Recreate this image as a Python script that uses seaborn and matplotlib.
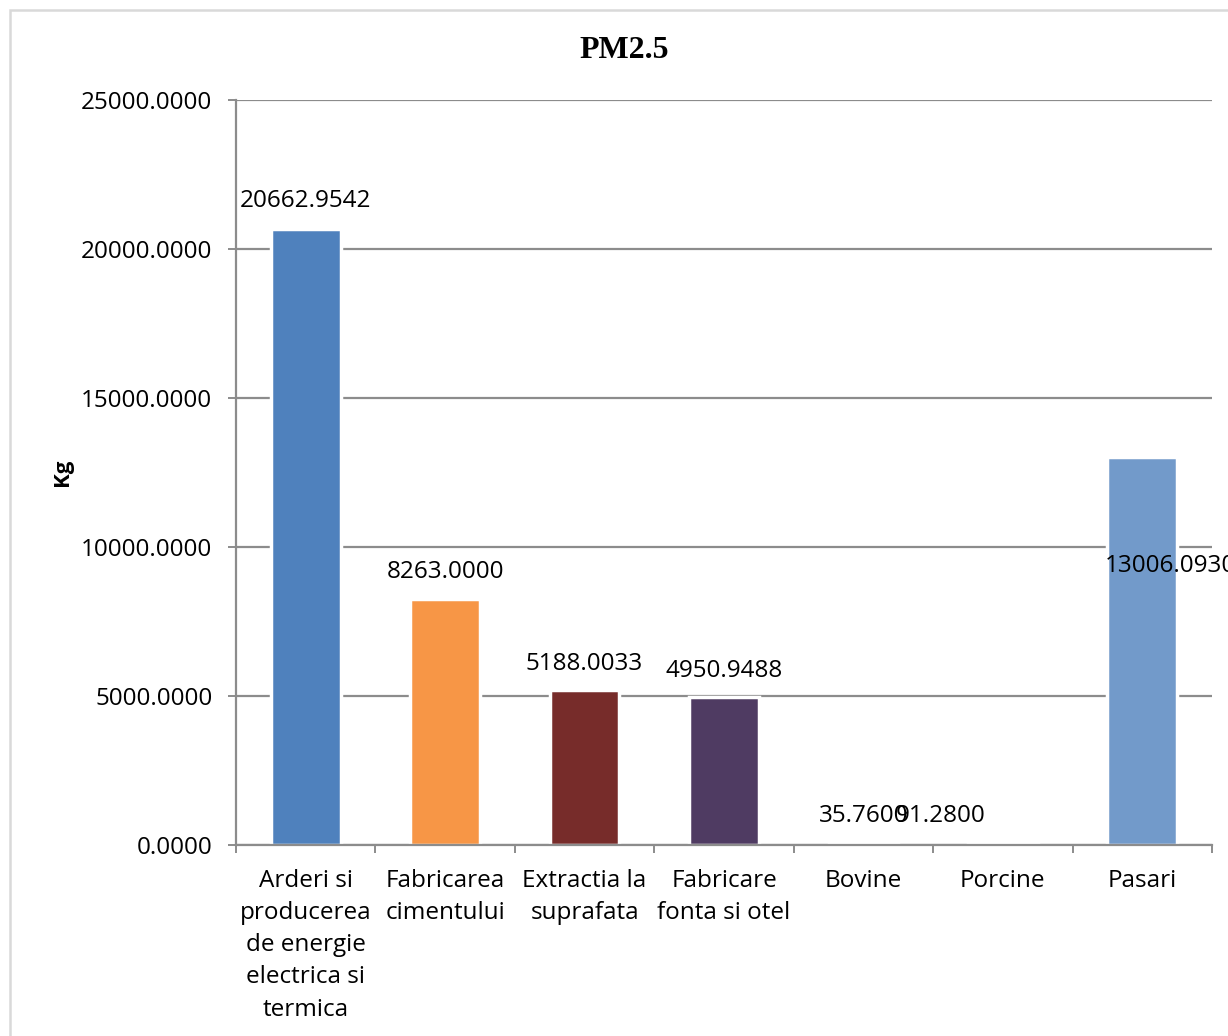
import matplotlib
matplotlib.use("Agg")
import matplotlib.pyplot as plt
import seaborn as sns
import pandas as pd
from matplotlib.patches import Rectangle

# PM2.5 emissions by source (kg)
categories = [
    "Arderi si\nproducerea\nde energie\nelectrica si\ntermica",
    "Fabricarea\ncimentului",
    "Extractia la\nsuprafata",
    "Fabricare\nfonta si otel",
    "Bovine",
    "Porcine",
    "Pasari",
]
values = [20662.9542, 8263.0000, 5188.0033, 4950.9488, 35.7600, 91.2800, 13006.0930]
y_ticks = [0, 5000, 10000, 15000, 20000, 25000]

bar_colors = ["#4F81BD", "#F79646", "#772C2A", "#4F3B62", "#9BBB59", "#4BACC6", "#729ACA"]
# value label placement (offset in points from each bar top)
label_dx = [0, 0, 0, 0, 0, -45, 20]
label_dy = [20.5, 19.5, 19, 19, 20, 19, -78]

sns.set_theme(style="white")
plt.rcParams["font.family"] = ["Open Sans", "DejaVu Sans"]
plt.rcParams["text.color"] = "black"
plt.rcParams["xtick.color"] = "black"
plt.rcParams["ytick.color"] = "black"
plt.rcParams["axes.labelcolor"] = "black"

df = pd.DataFrame({"cat": categories, "val": values})

fig = plt.figure(figsize=(12.28, 10.36), dpi=100)
ax = fig.add_axes([236 / 1228, 1 - 845 / 1036, (1212 - 236) / 1228, (845 - 100) / 1036])

sns.barplot(data=df, x="cat", y="val", hue="cat", palette=bar_colors, legend=False,
            width=0.5, edgecolor="white", linewidth=2.5, saturation=1, ax=ax, zorder=3)

ax.set_ylim(0, 25000)
ax.set_xlim(-0.5, len(categories) - 0.5)
ax.set_yticks(y_ticks)
ax.set_yticklabels([f"{t:.4f}" for t in y_ticks])
ax.yaxis.grid(True, color="#8C8C8C", linewidth=1.6, zorder=0)
ax.set_axisbelow(True)

for s in ["top", "right"]:
    ax.spines[s].set_visible(False)
for s in ["left", "bottom"]:
    ax.spines[s].set_color("#8C8C8C")
    ax.spines[s].set_linewidth(1.6)
    ax.spines[s].set_zorder(4)

ax.tick_params(axis="y", length=6, width=1.4, color="#8C8C8C", labelcolor="black",
               pad=11, labelsize=17.5, left=True)
ax.tick_params(axis="x", length=6, width=1.4, color="#8C8C8C", labelcolor="black",
               pad=11, labelsize=17.5, bottom=False)
ax.set_xticks(ax.get_xticks())
ax.set_xticklabels(categories, linespacing=1.46, va="top")
# category boundary ticks
ax.set_xticks([i - 0.5 for i in range(len(categories) + 1)], minor=True)
ax.tick_params(axis="x", which="minor", length=6, width=1.4, color="#8C8C8C", bottom=True)

ax.set_xlabel("")
ax.set_ylabel("Kg", fontsize=16, fontweight="bold", labelpad=6, color="black")

for i, v in enumerate(values):
    ax.annotate(f"{v:.4f}", xy=(i, v), xytext=(label_dx[i], label_dy[i]),
                textcoords="offset points", ha="center", va="center",
                fontsize=17.5, color="black", zorder=5)

fig.text(624 / 1228, 1 - 50 / 1036, "PM2.5", ha="center", va="center",
         fontsize=23, fontweight="bold", family="Liberation Serif", color="black")

# outer chart frame
fig.patches.append(Rectangle((10 / 1228, -0.05), 1.2, 1 - 10 / 1036 + 0.05,
                             transform=fig.transFigure, fill=False,
                             edgecolor="#D9D9D9", linewidth=1.8))

fig.savefig("out.png", dpi=100)
